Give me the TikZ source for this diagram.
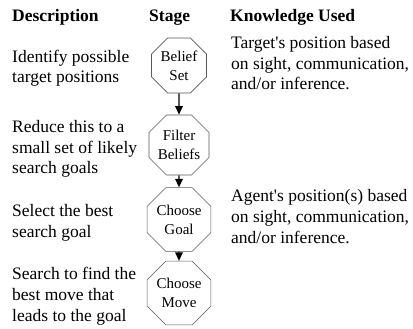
\documentclass[tikz,border=0pt]{standalone}
\usepackage{fontspec}
\setmainfont{Liberation Serif}
\usetikzlibrary{shapes.geometric,arrows.meta}
\tikzset{
	stage/.style={regular polygon,regular polygon sides=8,draw=black!65,line width=0.6pt,
		minimum size=59.5pt,inner sep=0pt,align=center,font=\fontsize{15}{19}\selectfont},
	head/.style={anchor=base west,inner sep=0pt,font=\fontsize{17.5}{21}\selectfont\bfseries},
	txt/.style={anchor=base west,inner sep=0pt,align=left,font=\fontsize{17.5}{20.8}\selectfont},
	flow/.style={line width=1.3pt,-{Triangle[width=7.5pt,length=8.5pt]}}
}
\begin{document}
\begin{tikzpicture}[x=1pt,y=-1pt]
		\useasboundingbox (0,0) rectangle (413,329);
		% column heads
		\node[head] (hdesc) at (12,22) {Description};
		\node[head] (hstage) at (149,22) {Stage};
		\node[head] (hknow) at (230,22) {Knowledge Used};
		% stages
		\node[stage] (belief) at (179,65.5) {Belief\\Set};
		\node[stage] (filter) at (179,145) {Filter\\Beliefs};
		\node[stage] (goal) at (179,219.5) {Choose\\Goal};
		\node[stage] (move) at (179,293) {Choose\\Move};
		\draw[flow] (belief) to (filter);
		\draw[flow] (filter) to (goal);
		\draw[flow] (goal) to (move);
		% descriptions (placed by the baseline of the last line)
		\node[txt] (desc1) at (12,83) {Identify possible\\target positions};
		\node[txt] (desc2) at (12,174) {Reduce this to a\\small set of likely\\search goals};
		\node[txt] (desc3) at (12,237) {Select the best\\search goal};
		\node[txt] (desc4) at (12,321) {Search to find the\\best move that\\leads to the goal};
		% knowledge
		\node[txt] (know1) at (231,90) {Target\textquotesingle s position based\\on sight, communication,\\and/or inference.};
		\node[txt] (know2) at (231,243) {Agent\textquotesingle s position(s) based\\on sight, communication,\\and/or inference.};
	\end{tikzpicture}
\end{document}
